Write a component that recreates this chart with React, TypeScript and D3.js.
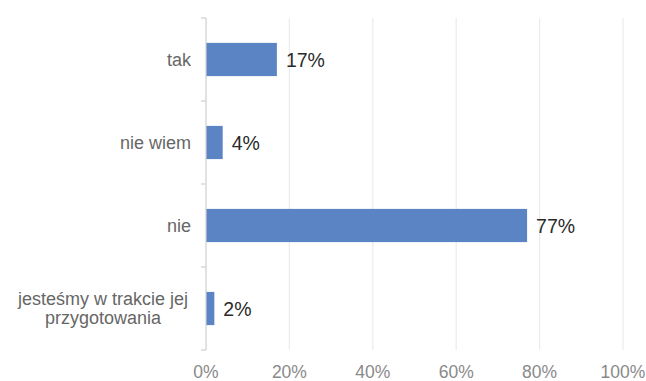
import React from "react";
import * as d3 from "d3";

const categories = ["tak", "nie wiem", "nie", "jesteśmy w trakcie jej\nprzygotowania"];
const values = [17, 4, 77, 2];
const xTicks = [0, 20, 40, 60, 80, 100];

const W = 646;
const H = 381;
const M = { left: 206, right: 23, top: 18, bottom: 31 };

export default function App() {
  const x = d3.scaleLinear().domain([0, 100]).range([M.left, W - M.right]);
  const y = d3
    .scaleBand<string>()
    .domain(categories)
    .range([M.top, H - M.bottom])
    .paddingInner(0.6)
    .paddingOuter(0.3);
  const bandEdges = d3.range(categories.length + 1).map((i) => M.top + i * ((H - M.bottom - M.top) / categories.length));
  const font = "'Liberation Sans', Arial, sans-serif";

  return (
    <div style={{ position: "absolute", left: 0, top: 0 }}>
      <svg width={W} height={H} style={{ display: "block", background: "#fff" }}>
        {xTicks.slice(1).map((t) => (
          <line key={t} x1={x(t)} x2={x(t)} y1={M.top} y2={H - M.bottom} stroke="#ebebeb" strokeWidth={1.2} />
        ))}
        {categories.map((c, i) => (
          <rect
            key={c}
            x={x(0)}
            y={y(c)!}
            width={x(values[i]) - x(0)}
            height={y.bandwidth()}
            fill="#5b84c5"
          />
        ))}
        <line x1={x(0)} x2={x(0)} y1={M.top} y2={H - M.bottom} stroke="#cfcfcf" strokeWidth={1.2} />
        {bandEdges.map((b, i) => (
          <line key={i} x1={x(0) - 5} x2={x(0)} y1={b} y2={b} stroke="#cfcfcf" strokeWidth={1.2} />
        ))}
        {categories.map((c) => {
          const lines = c.split("\n");
          const cy = y(c)! + y.bandwidth() / 2;
          const lh = 19;
          if (lines.length === 1) {
            return (
              <text key={c} x={191} y={cy} dy="0.35em" textAnchor="end" fontFamily={font} fontSize={18} fill="#666">
                {c}
              </text>
            );
          }
          return (
            <text key={c} x={103} textAnchor="middle" fontFamily={font} fontSize={18} fill="#666">
              {lines.map((l, j) => (
                <tspan key={j} x={103} y={cy + (j - (lines.length - 1) / 2) * lh} dy="0.35em">
                  {l}
                </tspan>
              ))}
            </text>
          );
        })}
        {categories.map((c, i) => (
          <text
            key={c}
            x={x(values[i]) + 9}
            y={y(c)! + y.bandwidth() / 2}
            dy="0.36em"
            fontFamily={font}
            fontSize={19.5}
            fill="#2a2a2a"
          >
            {values[i]}%
          </text>
        ))}
        {xTicks.map((t) => (
          <text key={t} x={x(t)} y={372} dy="0.35em" textAnchor="middle" fontFamily={font} fontSize={17.5} fill="#8a8a8a">
            {t}%
          </text>
        ))}
      </svg>
    </div>
  );
}
